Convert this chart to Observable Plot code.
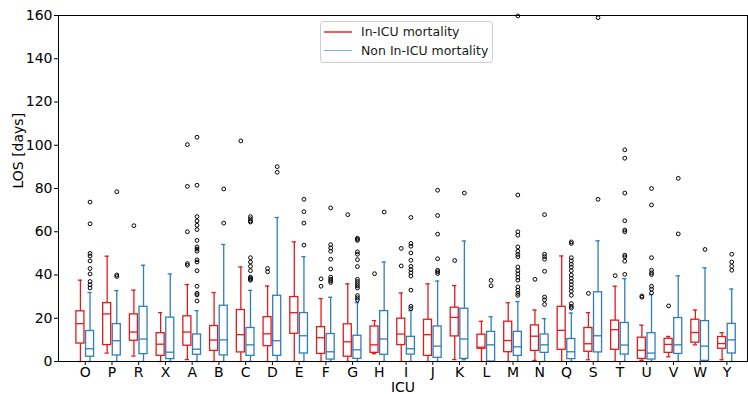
<!DOCTYPE html>
<html>
<head>
<meta charset="utf-8">
<script src="https://cdn.jsdelivr.net/npm/d3@7"></script>
<script src="https://cdn.jsdelivr.net/npm/@observablehq/plot@0.6"></script>
<style>
  html, body { margin: 0; padding: 0; background: white; }
  #wrap { position: relative; width: 748px; height: 394px; font-family: "DejaVu Sans", sans-serif; }
  #legend { position: absolute; left: 320px; top: 21px; width: 171px; height: 40px;
    border: 1px solid #d0d0d0; border-radius: 3px; background: rgba(255,255,255,0.85); }
  .li { position: absolute; left: 0; height: 16px; font-size: 12.5px; color: #1a1a1a; white-space: nowrap; }
  .li .sw { position: absolute; left: 3px; top: 7px; width: 28px; height: 1.5px; }
  .li .tx { position: absolute; left: 40px; top: 0px; line-height: 16px; }
</style>
</head>
<body>
<div id="wrap"><div id="legend"></div></div>
<script>
const icus = ["O","P","R","X","A","B","C","D","E","F","G","H","I","J","K","L","M","N","Q","S","T","U","V","W","Y"];
const seriesNames = ["In-ICU mortality", "Non In-ICU mortality"];
const seriesColors = ["#e31a1c", "#2f7ebc"];
const legendColors = ["rgba(227,26,28,0.7)", "rgba(47,126,188,0.6)"];
const yTicks = [0, 20, 40, 60, 80, 100, 120, 140, 160];

// In-ICU mortality (red)
const redLow  = [0, 3.9, 2.5, 0, 0.9, 0, 0, 0, 0, 0, 0, 3.6, 0, 0, 0.9, 0, 0, 0.5, 0, 0.8, 0, 0.5, 2.2, 7.7, 0.8];
const redQ1   = [8.3, 7.6, 9.6, 2.6, 7.3, 4.9, 4.2, 7.1, 12.8, 3.5, 2.2, 4.0, 7.6, 2.6, 11.6, 5.9, 4.3, 4.9, 5.4, 4.5, 5.4, 1.2, 4.0, 8.7, 5.9];
const redMed  = [17.5, 22, 13.6, 8, 13.6, 9.9, 12.4, 12.8, 22.6, 11, 9.1, 7.7, 12.7, 12.4, 20.4, 6.6, 9.7, 11.7, 14.4, 8.2, 14.7, 5.2, 7.9, 13.4, 8.3];
const redQ3   = [23.2, 27, 21.8, 13.1, 20.9, 16.4, 23.8, 20.5, 29.8, 15.9, 17.2, 16.2, 19.8, 19.3, 24.9, 12.4, 18.4, 16.7, 25.3, 15.5, 18.9, 11, 10.5, 19.3, 11.3];
const redHigh = [37.6, 48.7, 33, 22.6, 35.6, 31.9, 43.7, 34.9, 55.3, 29.1, 35.9, 18.9, 31.7, 35.9, 35.1, 18.6, 27.2, 23.8, 48.8, 22.6, 34.8, 16.8, 11.6, 23.8, 13.3];
const redOut  = [[], [], [62.8], [], [100.3, 81, 60, 45.3, 44.5], [], [102], [43, 41.5], [], [38.2, 34.8], [67.9], [40.6], [52.3, 44.2], [], [46.7], [], [], [38], [], [31.5], [39.7], [30.3, 29.7], [25.7], [], []];

// Non In-ICU mortality (blue)
const blueLow  = [0, 0, 0, 0, 0, 0, 0, 0, 0, 0, 0, 0, 0, 0, 0.8, 0, 0, 0, 0, 0, 0, 0, 0, 0, 0];
const blueQ1   = [2.2, 2.8, 3.4, 1.1, 3.1, 2.8, 2.6, 2.6, 3.7, 0.9, 1.2, 3.1, 3.2, 1.7, 1.2, 0, 2.6, 4.0, 1.1, 4.2, 3.2, 0.9, 3.5, 0.3, 3.7];
const blueMed  = [5.9, 9.6, 10.4, 4.3, 5.7, 10, 7.7, 9.6, 11.9, 4.5, 5.4, 10.4, 5.9, 7.1, 10.4, 7.7, 6.8, 7.7, 4.5, 11.9, 7.6, 3.9, 7.7, 7.1, 10];
const blueQ3   = [14.1, 17.3, 25.3, 20.3, 12.5, 25.8, 15.5, 30.4, 22.4, 12.7, 11.9, 23.3, 11.4, 16.2, 24.4, 13.7, 13.7, 12.5, 10.4, 32, 17.8, 13.1, 20.1, 18.7, 17.4];
const blueHigh = [31.9, 32.8, 44.5, 40.5, 23.5, 54.1, 32.9, 66.6, 48.5, 29.7, 27.2, 46, 23.5, 37.2, 55.7, 20.7, 27.7, 19.8, 22.4, 55.8, 38.3, 30.9, 39.6, 43.3, 33.5];
const blueOut  = [
  [73.7, 63.7, 50, 48.8, 46.5, 43, 40.5, 37, 35.5, 34],
  [78.5, 40, 39.3],
  [],
  [],
  [103.7, 81.5, 67, 65, 63, 61, 56, 53, 52, 51, 47, 46, 42, 34.8, 31.5, 30.8, 28],
  [79.8, 64],
  [67, 66, 65, 64.5, 48, 46, 44, 42, 39, 38.5, 38, 37.6],
  [90.1, 87.5],
  [75, 69.3, 64, 53.8],
  [71, 54, 52.5, 51, 47.3, 42.8, 39, 38, 37.3, 36.5],
  [57, 56.5, 56, 50.7, 49.6, 47.1, 43.9, 38, 37, 36, 35, 34, 30.5, 29.5, 28.5],
  [69.1],
  [66.6, 54.6, 53.3, 50.2, 46.8, 44, 42.5, 41, 39.5, 33, 25.5, 24.5],
  [79.2, 67.5, 58.9, 47.5, 42.2, 41.5, 40.7],
  [77.9],
  [37.5, 35],
  [159.8, 77, 60, 58.4, 53, 51, 49.5, 48.4, 43.7, 42, 40.5, 39, 37.6, 34.5, 33, 31.5, 30.6],
  [67.9, 49.6, 48.5, 47.3, 41.7, 29.8, 28.5, 26.4],
  [55.3, 54.6, 48, 46.5, 45, 43.7, 42, 40, 38.5, 37, 35.5, 34, 32.5, 30.6, 26.8, 25.5, 24.7],
  [159, 75],
  [97.9, 94, 77.9, 65.1, 60.8, 60, 49.2, 48.4, 46.4, 40.3],
  [80, 72.4, 48, 42.2, 41, 40.2, 34.8, 33.5, 31.7],
  [84.7, 59],
  [51.8],
  [49.6, 46, 44, 42.2]
];

const seriesData = [
  {low: redLow, q1: redQ1, med: redMed, q3: redQ3, high: redHigh, out: redOut, off: -0.18},
  {low: blueLow, q1: blueQ1, med: blueMed, q3: blueQ3, high: blueHigh, out: blueOut, off: 0.18}
];

const boxes = [];
const outliers = [];
seriesData.forEach((s, si) => {
  icus.forEach((icu, i) => {
    const xc = i + s.off;
    boxes.push({icu, series: seriesNames[si], xc, low: s.low[i], q1: s.q1[i], med: s.med[i], q3: s.q3[i], high: s.high[i]});
    s.out[i].forEach(v => outliers.push({icu, series: seriesNames[si], xc, v}));
  });
});

const HW = 0.15, CW = 0.08, SW = 1.3;
const colorOpt = {domain: seriesNames, range: seriesColors};

const chart = Plot.plot({
  width: 748,
  height: 394,
  marginLeft: 58,
  marginRight: 1,
  marginTop: 15,
  marginBottom: 33,
  style: {fontFamily: "DejaVu Sans, sans-serif", fontSize: "14px", color: "black", background: "white"},
  x: {domain: [-1, 24.77], ticks: d3.range(icus.length), tickFormat: i => icus[i], tickSize: 4, tickPadding: 1.5, label: null},
  y: {domain: [0, 160], ticks: yTicks, tickSize: 4, tickPadding: 2, label: null},
  color: colorOpt,
  marks: [
    Plot.ruleX(boxes, {x: "xc", y1: "low", y2: "q1", stroke: "series", strokeWidth: SW}),
    Plot.ruleX(boxes, {x: "xc", y1: "q3", y2: "high", stroke: "series", strokeWidth: SW}),
    Plot.ruleY(boxes, {y: "low", x1: d => d.xc - CW, x2: d => d.xc + CW, stroke: "series", strokeWidth: SW}),
    Plot.ruleY(boxes, {y: "high", x1: d => d.xc - CW, x2: d => d.xc + CW, stroke: "series", strokeWidth: SW}),
    Plot.rect(boxes, {x1: d => d.xc - HW, x2: d => d.xc + HW, y1: "q1", y2: "q3", fill: "white", stroke: "series", strokeWidth: SW}),
    Plot.ruleY(boxes, {y: "med", x1: d => d.xc - HW, x2: d => d.xc + HW, stroke: "series", strokeWidth: SW}),
    Plot.dot(outliers, {x: "xc", y: "v", r: 1.9, stroke: "black", fill: "none", strokeWidth: 1}),
    Plot.frame({stroke: "black", strokeWidth: 1}),
    Plot.text(["LOS [days]"], {frameAnchor: "left", dx: -40, rotate: -90, lineAnchor: "middle", fontSize: 14, fill: "black"}),
    Plot.text(["ICU"], {frameAnchor: "bottom", dy: 26, lineAnchor: "middle", fontSize: 14, fill: "black"})
  ]
});

const wrap = document.getElementById("wrap");
wrap.insertBefore(chart, wrap.firstChild);

const legend = document.getElementById("legend");
seriesNames.forEach((name, i) => {
  const item = document.createElement("div");
  item.className = "li";
  item.style.top = (2 + i * 18.5) + "px";
  const sw = document.createElement("div");
  sw.className = "sw";
  sw.style.background = legendColors[i];
  const tx = document.createElement("div");
  tx.className = "tx";
  tx.textContent = name;
  item.appendChild(sw);
  item.appendChild(tx);
  legend.appendChild(item);
});
</script>
</body>
</html>
